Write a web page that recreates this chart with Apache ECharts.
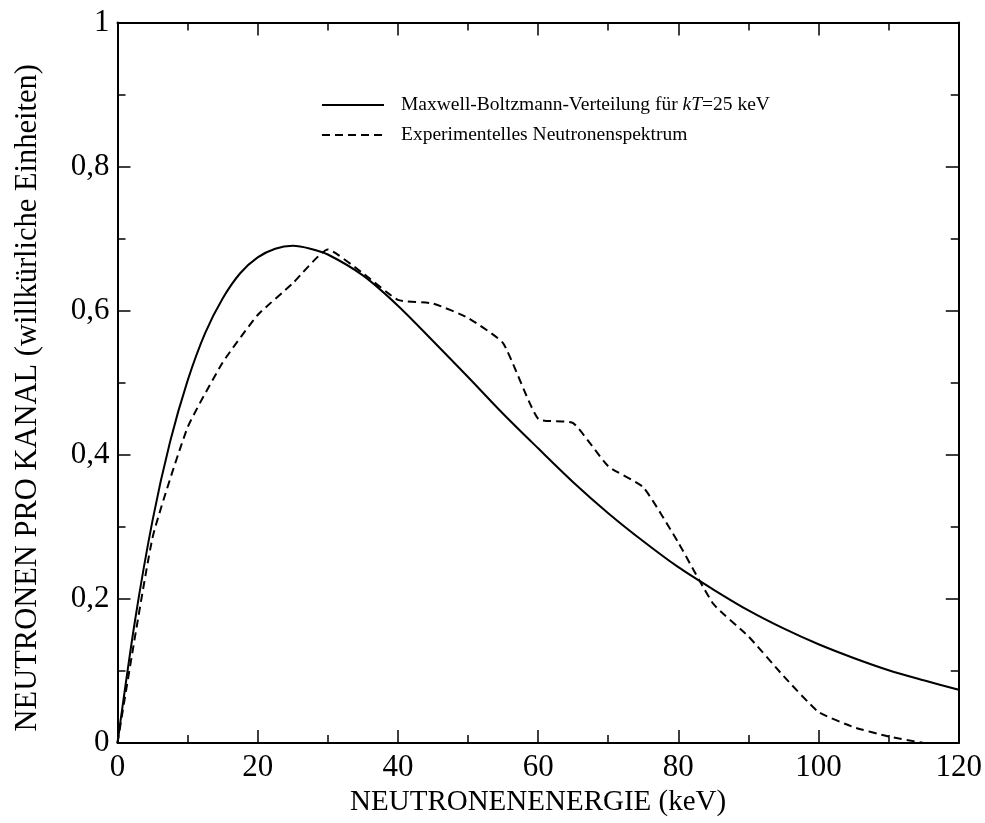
<!DOCTYPE html>
<html>
<head>
<meta charset="utf-8">
<script src="https://cdn.jsdelivr.net/npm/echarts@6/dist/echarts.min.js"></script>
<style>html,body{margin:0;padding:0;background:#fff}#c{width:985px;height:823px}</style>
</head>
<body>
<div id="c"></div>
<script>
// Maxwell-Boltzmann curve (kT = 25 keV)
const mbEnergy = [0, 2.5, 5, 7.5, 10, 12.5, 15, 17.5, 20, 22.5, 25, 27.5, 30, 35, 40, 45, 50, 55, 60, 65, 70, 75, 80, 85, 90, 95, 100, 105, 110, 115, 120];
const mbValues = [0, 0.170, 0.309, 0.418, 0.503, 0.569, 0.617, 0.652, 0.674, 0.686, 0.690, 0.686, 0.678, 0.649, 0.607, 0.558, 0.508, 0.457, 0.409, 0.362, 0.319, 0.280, 0.244, 0.213, 0.184, 0.159, 0.137, 0.118, 0.101, 0.087, 0.074];
const expEnergy = [0, 5, 10, 15, 20, 25, 30, 35, 40, 45, 50, 55, 60, 65, 70, 75, 80, 85, 90, 95, 100, 105, 110, 115];
const expValues = [0, 0.285, 0.438, 0.528, 0.594, 0.638, 0.685, 0.652, 0.615, 0.610, 0.590, 0.555, 0.450, 0.444, 0.384, 0.355, 0.278, 0.193, 0.148, 0.093, 0.043, 0.022, 0.009, 0.0];
const xTicks = [0, 20, 40, 60, 80, 100, 120];
const yTicks = [0, 0.2, 0.4, 0.6, 0.8, 1];

const seriesNames = ['Maxwell-Boltzmann-Verteilung für kT=25 keV', 'Experimentelles Neutronenspektrum'];
const xTitle = 'NEUTRONENENERGIE (keV)';
const yTitle = 'NEUTRONEN PRO KANAL (willkürliche Einheiten)';

const font = 'Liberation Serif';
const fmtY = v => (Math.abs(v - 1) < 1e-9 ? '1' : (Math.abs(v) < 1e-9 ? '0' : v.toFixed(1).replace('.', ',')));

function axisBase(extra) {
  return Object.assign({
    type: 'value',
    axisLine: { show: true, onZero: false, lineStyle: { color: '#000', width: 2 } },
    axisTick: { show: true, inside: true, length: 13, lineStyle: { color: '#000', width: 1.5 } },
    minorTick: { show: true, splitNumber: 2, length: 8, lineStyle: { color: '#000', width: 1.5 } },
    splitLine: { show: false },
    minorSplitLine: { show: false }
  }, extra);
}

const chart = echarts.init(document.getElementById('c'));
chart.setOption({
  animation: false,
  backgroundColor: '#fff',
  grid: { left: 117.5, right: 26, top: 22.5, bottom: 80, containLabel: false },
  legend: {
    orient: 'vertical',
    left: 316,
    top: 90,
    itemWidth: 62,
    itemHeight: 14,
    itemGap: 10,
    data: seriesNames,
    itemStyle: { opacity: 0, borderWidth: 0 },
    formatter: function (name) {
      if (name === seriesNames[0]) return '{a|Maxwell-Boltzmann-Verteilung für }{i|kT}{a|=25 keV}';
      return '{a|' + name + '}';
    },
    textStyle: {
      fontFamily: font, fontSize: 19.5, color: '#000', padding: [0, 0, 0, 12],
      rich: {
        a: { fontFamily: font, fontSize: 19.5, lineHeight: 22, color: '#000' },
        i: { fontFamily: font, fontSize: 19.5, lineHeight: 22, color: '#000', fontStyle: 'italic' }
      }
    }
  },
  xAxis: [
    axisBase({
      min: 0, max: 120, interval: 20, position: 'bottom',
      axisLabel: { show: true, margin: 9, fontFamily: font, fontSize: 31, color: '#000',
        customValues: xTicks },
      name: xTitle, nameLocation: 'middle', nameGap: 42,
      nameTextStyle: { fontFamily: font, fontSize: 29, color: '#000' }
    }),
    axisBase({ min: 0, max: 120, interval: 20, position: 'top', axisLabel: { show: false } })
  ],
  yAxis: [
    axisBase({
      min: 0, max: 1, interval: 0.2, position: 'left',
      axisLabel: { show: true, margin: 8, fontFamily: font, fontSize: 31, color: '#000', formatter: fmtY },
      name: yTitle, nameLocation: 'middle', nameGap: 74, nameRotate: 90,
      nameTextStyle: { fontFamily: font, fontSize: 30.5, color: '#000', padding: [0, 30, 0, 0] }
    }),
    axisBase({ min: 0, max: 1, interval: 0.2, position: 'right', axisLabel: { show: false } })
  ],
  series: [
    {
      name: seriesNames[0], type: 'line', smooth: 0.3, symbol: 'none',
      data: mbEnergy.map((e, i) => [e, mbValues[i]]),
      lineStyle: { color: '#000', width: 2, type: 'solid' },
      itemStyle: { color: '#000' }
    },
    {
      name: seriesNames[1], type: 'line', smooth: 0.15, symbol: 'none',
      data: expEnergy.map((e, i) => [e, expValues[i]]),
      lineStyle: { color: '#000', width: 2, type: [8, 5] },
      itemStyle: { color: '#000' }
    }
  ]
});
</script>
</body>
</html>
